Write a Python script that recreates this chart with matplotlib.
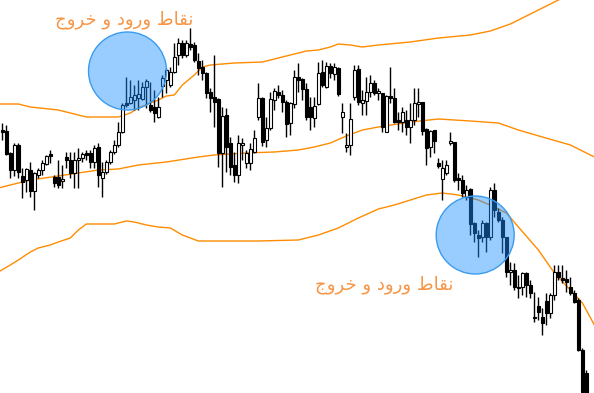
import numpy as np
import matplotlib.pyplot as plt
from matplotlib.patches import Ellipse

# candle data (open, high, low, close)
opens = [263, 262, 240, 223, 248, 217, 213, 223, 202, 218, 223, 229, 239, 216, 216, 212, 236, 233, 220, 233,
         235, 240, 240, 231, 246, 215, 221, 231, 241, 248, 261, 290, 290, 293, 295, 294, 306, 288, 286, 276,
         307, 313, 308, 321, 338, 350, 338, 349, 348, 332, 326, 320, 301, 296, 294, 240, 278, 250, 228, 218,
         248, 230, 230, 241, 276, 295, 253, 265, 293, 301, 298, 291, 270, 289, 316, 314, 304, 286, 275, 289,
         321, 306, 327, 319, 325, 276, 246, 248, 296, 324, 290, 292, 301, 310, 300, 300, 261, 297, 295, 273,
         271, 273, 266, 273, 289, 291, 264, 246, 263, 230, 214, 220, 250, 251, 215, 213, 196, 204, 170, 158,
         156, 170, 156, 203, 181, 173, 156, 121, 123, 106, 106, 120, 108, 76, 87, 76, 92, 80, 98, 121,
         115, 114, 106, 100, 93, 43, 20]
highs = [270, 268, 241, 250, 250, 225, 225, 231, 221, 225, 233, 238, 243, 218, 233, 228, 241, 241, 241, 245,
         241, 243, 243, 248, 250, 231, 233, 243, 253, 271, 290, 316, 313, 308, 313, 311, 314, 311, 303, 296,
         318, 325, 326, 350, 355, 353, 353, 365, 351, 340, 333, 321, 305, 338, 295, 286, 285, 256, 241, 258,
         255, 243, 250, 263, 310, 296, 276, 301, 305, 308, 303, 293, 291, 323, 330, 315, 310, 296, 296, 331,
         333, 331, 330, 330, 326, 290, 260, 290, 328, 328, 303, 316, 318, 313, 305, 300, 298, 326, 305, 281,
         286, 283, 290, 305, 305, 291, 265, 263, 263, 235, 233, 233, 261, 251, 220, 218, 208, 205, 171, 163,
         173, 171, 206, 210, 185, 176, 156, 131, 130, 118, 121, 121, 113, 101, 96, 85, 100, 100, 128, 128,
         128, 123, 116, 103, 95, 45, 23]
lows = [253, 238, 215, 217, 215, 195, 201, 196, 183, 215, 218, 228, 230, 206, 205, 205, 225, 215, 205, 205,
        231, 233, 225, 225, 206, 196, 219, 229, 239, 246, 260, 286, 289, 283, 283, 293, 285, 281, 271, 275,
        296, 300, 306, 320, 328, 335, 336, 343, 331, 318, 313, 295, 281, 266, 226, 206, 221, 218, 211, 210,
        233, 225, 223, 240, 273, 247, 246, 263, 283, 295, 281, 256, 258, 285, 301, 293, 273, 263, 266, 288,
        306, 305, 315, 313, 297, 260, 241, 238, 293, 288, 278, 278, 296, 298, 293, 261, 261, 290, 270, 263,
        261, 258, 250, 268, 276, 258, 228, 236, 240, 225, 193, 218, 248, 211, 203, 196, 193, 158, 151, 136,
        151, 141, 153, 176, 171, 140, 116, 108, 103, 95, 98, 96, 95, 71, 73, 58, 68, 75, 93, 113,
        110, 101, 98, 90, 42, -1, -7]
closes = [261, 239, 223, 248, 221, 211, 224, 202, 220, 223, 230, 237, 237, 210, 208, 214, 233, 220, 233, 235,
          239, 238, 231, 245, 218, 221, 231, 241, 248, 261, 288, 288, 296, 298, 299, 306, 312, 283, 280, 286,
          315, 323, 321, 336, 350, 338, 350, 346, 333, 325, 320, 300, 295, 291, 240, 277, 246, 226, 218, 250,
          250, 240, 244, 255, 295, 251, 265, 294, 302, 298, 291, 269, 290, 316, 313, 304, 276, 276, 287, 320,
          308, 327, 320, 326, 299, 281, 248, 274, 323, 291, 293, 301, 310, 300, 302, 266, 297, 295, 271, 271,
          281, 266, 273, 290, 291, 262, 245, 262, 252, 227, 225, 228, 252, 213, 213, 200, 203, 169, 160, 155,
          170, 156, 203, 183, 173, 156, 121, 123, 106, 105, 120, 108, 100, 75, 81, 70, 80, 98, 121, 116,
          113, 111, 100, 91, 43, 1, -7]

# orange bands: (candle index, value) pairs
upper_idx = [-1, 4, 7, 14, 21, 29, 32, 34, 37, 39, 41, 43, 45, 48, 50, 52, 58, 65, 69, 74,
             76, 79, 82, 84, 87, 90, 94, 102, 109, 117, 122, 127, 132, 137, 141]
upper_val = [289, 289, 286, 283, 276, 276, 280, 285, 290, 293, 297, 298, 308, 318, 326, 328, 330, 331, 335, 340,
             342, 343, 346, 349, 348, 346, 348, 351, 355, 358, 362, 369, 379, 389, 397]
middle_idx = [-1, 7, 14, 24, 29, 34, 41, 49, 53, 61, 68, 74, 78, 82, 86, 90, 94, 102, 109, 117,
              124, 129, 135, 142, 148]
middle_val = [205, 213, 217, 223, 224, 228, 231, 236, 238, 240, 241, 243, 246, 250, 257, 263, 266, 271, 274, 272,
              270, 263, 256, 248, 236]
lower_idx = [-1, 2, 4, 7, 9, 12, 14, 17, 19, 21, 28, 31, 33, 36, 39, 42, 45, 49, 54, 64,
             74, 79, 84, 89, 94, 98, 106, 110, 114, 119, 123, 126, 129, 134, 138, 142, 145, 148]
lower_val = [121, 128, 133, 141, 145, 148, 151, 155, 163, 169, 169, 172, 171, 168, 166, 165, 158, 152, 152, 152,
             153, 158, 165, 175, 184, 188, 198, 200, 198, 193, 186, 180, 166, 143, 120, 103, 90, 68]

# entry / exit marks
mark_idx = [31.3, 118.2]
mark_val = [322, 158]
label = "نقاط ورود و خروج"
label_idx = [30.4, 95.4]
label_val = [373, 108]


def shape_arabic(text):
    # minimal contextual shaping for the letters used here, then reverse for display
    forms = {
        "ن": ("\ufee5", "\ufee6", "\ufee7", "\ufee8"),
        "ق": ("\ufed5", "\ufed6", "\ufed7", "\ufed8"),
        "ط": ("\ufec1", "\ufec2", "\ufec3", "\ufec4"),
        "خ": ("\ufea5", "\ufea6", "\ufea7", "\ufea8"),
        "ج": ("\ufe9d", "\ufe9e", "\ufe9f", "\ufea0"),
        "ا": ("\ufe8d", "\ufe8e", None, None),
        "و": ("\ufeed", "\ufeee", None, None),
        "ر": ("\ufead", "\ufeae", None, None),
        "د": ("\ufea9", "\ufeaa", None, None),
    }
    out = []
    for k, ch in enumerate(text):
        if ch not in forms:
            out.append(ch)
            continue
        prev = text[k - 1] if k > 0 else ""
        nxt = text[k + 1] if k + 1 < len(text) else ""
        jp = prev in forms and forms[prev][2] is not None
        jn = forms[ch][2] is not None and nxt in forms
        iso, fin, ini, med = forms[ch]
        if jp and jn:
            out.append(med)
        elif jp:
            out.append(fin)
        elif jn:
            out.append(ini)
        else:
            out.append(iso)
    return "".join(out)[::-1]


opens = np.array(opens)
closes = np.array(closes)
x = np.arange(len(opens))
up = closes >= opens

fig = plt.figure(figsize=(5.94, 3.93), dpi=100)
ax = fig.add_axes([0, 0, 1, 1])

ax.plot(upper_idx, upper_val, color="#FF8C00", lw=1, zorder=1)
ax.plot(middle_idx, middle_val, color="#FF8C00", lw=1, zorder=1)
ax.plot(lower_idx, lower_val, color="#FF8C00", lw=1, zorder=1)

ax.vlines(x, lows, highs, color="black", lw=1, zorder=2)
body = np.maximum(np.abs(closes - opens), 1)
ax.bar(x[up], body[up], bottom=opens[up], width=0.7, facecolor="white",
       edgecolor="black", lw=0.8, zorder=3)
ax.bar(x[~up], body[~up], bottom=closes[~up], width=0.7, facecolor="black",
       edgecolor="black", lw=0.8, zorder=3)

for mx, my in zip(mark_idx, mark_val):
    ax.add_patch(Ellipse((mx, my), width=78 / 4, height=78, facecolor="#1E90FF",
                         alpha=0.45, edgecolor="none", zorder=4))
    ax.add_patch(Ellipse((mx, my), width=78 / 4, height=78, facecolor="none",
                         edgecolor="#3A9BEF", lw=1, zorder=4))

for lx, ly in zip(label_idx, label_val):
    ax.text(lx, ly, shape_arabic(label), color="#F79646", fontsize=13,
            ha="center", va="center", family="DejaVu Sans", zorder=5)

ax.set_xlim(-0.575, 147.9)
ax.set_ylim(0, 393)
ax.axis("off")

fig.savefig("out.png", dpi=100)
